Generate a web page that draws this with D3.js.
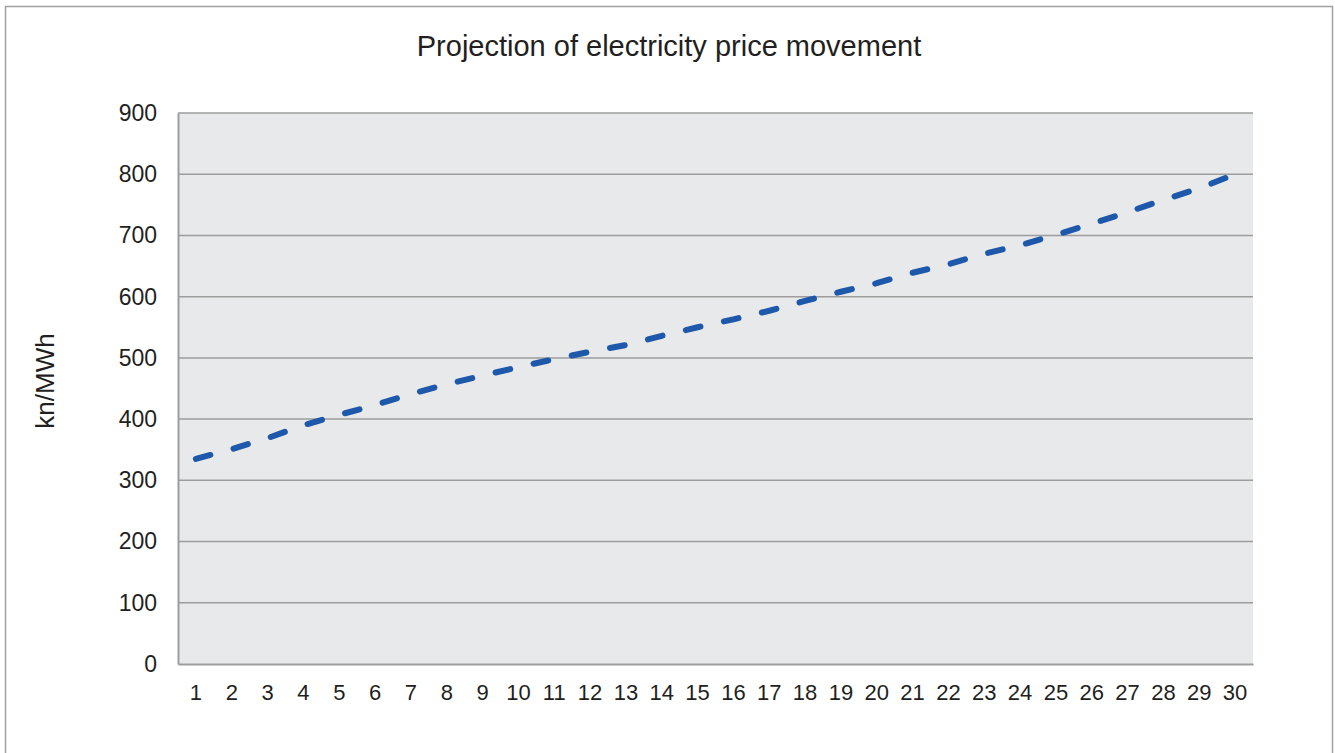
<!DOCTYPE html>
<html>
<head>
<meta charset="utf-8">
<script src="https://cdn.jsdelivr.net/npm/d3@7"></script>
<style>
  body { margin: 0; background: #fff; }
  text { font-family: "Liberation Sans", Arial, sans-serif; fill: #231f20; }
</style>
</head>
<body>
<svg class="chart"></svg>
<script>
var years = d3.range(1, 31);
var prices = [335, 351, 369, 390, 407, 423, 441, 457, 471, 485,
              498, 510, 521, 536, 550, 563, 577, 593, 608, 622,
              639, 653, 670, 684, 701, 719, 738, 758, 777, 800];
var yTicks = [0, 100, 200, 300, 400, 500, 600, 700, 800, 900];

var width = 1335, height = 753;
var margin = {top: 113, right: 82, bottom: 89, left: 178};

var svg = d3.select(".chart")
  .attr("width", width)
  .attr("height", height);

// outer frame
svg.append("rect")
  .attr("x", 5.5).attr("y", 6.5)
  .attr("width", 1327).attr("height", 760)
  .attr("fill", "none")
  .attr("stroke", "#a0a0a0")
  .attr("stroke-width", 1.5);

var x = d3.scaleBand()
  .domain(years)
  .range([margin.left, width - margin.right]);

var y = d3.scaleLinear()
  .domain([0, 900])
  .range([height - margin.bottom, margin.top]);

// plot background
svg.append("rect")
  .attr("x", margin.left)
  .attr("y", margin.top)
  .attr("width", width - margin.left - margin.right)
  .attr("height", y(0) - margin.top)
  .attr("fill", "#e8e9eb");

// grid lines
svg.append("g")
  .selectAll("line").data(yTicks.filter(d => d > 0)).enter().append("line")
    .attr("x1", margin.left)
    .attr("x2", width - margin.right)
    .attr("y1", d => y(d))
    .attr("y2", d => y(d))
    .attr("stroke", "#9d9d9d")
    .attr("stroke-width", 1.5);

// axes
var yAxis = g => g
  .attr("transform", `translate(${margin.left},0)`)
  .call(d3.axisLeft(y).tickValues(yTicks).tickSize(0).tickPadding(21))
  .call(g => g.select(".domain").attr("stroke", "#9d9d9d").attr("stroke-width", 2))
  .call(g => g.selectAll("text").attr("font-size", 23).attr("font-family", "Liberation Sans, Arial, sans-serif").attr("fill", "#231f20"));

var xAxis = g => g
  .attr("transform", `translate(0,${y(0)})`)
  .call(d3.axisBottom(x).tickSize(0).tickSizeOuter(0).tickPadding(20))
  .call(g => g.select(".domain").attr("stroke", "#9d9d9d").attr("stroke-width", 2))
  .call(g => g.selectAll("text").attr("font-size", 22).attr("font-family", "Liberation Sans, Arial, sans-serif").attr("fill", "#231f20"));

svg.append("g").call(yAxis);
svg.append("g").call(xAxis);

// price line
var line = d3.line()
  .x((d, i) => x(years[i]) + x.bandwidth() / 2)
  .y(d => y(d));

svg.append("path")
  .datum(prices)
  .attr("d", line)
  .attr("fill", "none")
  .attr("stroke", "#1d58aa")
  .attr("stroke-width", 6)
  .attr("stroke-linecap", "round")
  .attr("stroke-dasharray", "15,24");

// title
svg.append("text")
  .attr("x", 669)
  .attr("y", 56)
  .attr("text-anchor", "middle")
  .attr("font-size", 29)
  .text("Projection of electricity price movement");

// y axis title
svg.append("text")
  .attr("transform", "translate(54,381) rotate(-90)")
  .attr("text-anchor", "middle")
  .attr("font-size", 26)
  .text("kn/MWh");
</script>
</body>
</html>
